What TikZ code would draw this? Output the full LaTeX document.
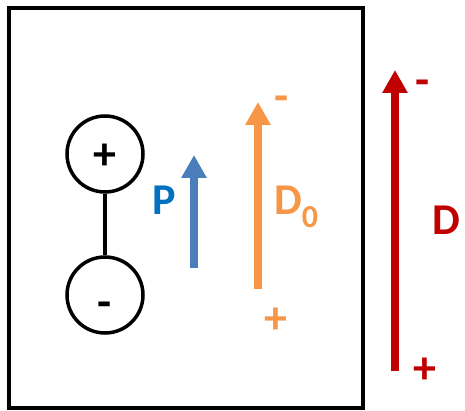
\documentclass[tikz,border=0pt]{standalone}
\usepackage{fontspec}
\setmainfont{Carlito}
\usetikzlibrary{arrows.meta}
\definecolor{PolBlue}{HTML}{4A7EBB}
\definecolor{LabelBlue}{HTML}{0070C0}
\definecolor{FieldOrange}{HTML}{F79646}
\definecolor{FieldRed}{HTML}{C00000}

\begin{document}
\begin{tikzpicture}[x=1pt,y=-1pt,
    charge/.style={circle,draw,line width=3.5pt,minimum size=76pt,inner sep=0pt,
                   text depth=0pt,font=\fontsize{46}{46}\selectfont\bfseries},
    field/.style={line width=8pt,-{Triangle[width=24pt,length=23pt]}},
    sym/.style={anchor=base west,inner sep=0pt,font=\fontsize{44}{44}\selectfont\bfseries},
    sign/.style={anchor=base,inner sep=0pt,font=\fontsize{46}{46}\selectfont\bfseries}]
    \useasboundingbox (0,0) rectangle (465,411);
    % dielectric slab
    \draw[line width=3.5pt] (9,8) rectangle (363,408);
    % dipole
    \node[charge,text height=31pt] (qplus) at (105,154) {+};
    \node[charge,text height=44pt] (qminus) at (105,295) {-};
    \draw[line width=3.5pt] (qplus)--(qminus);
    % polarisation
    \coordinate (ptail) at (194,268);
    \coordinate (phead) at (194,155);
    \draw[field,PolBlue] (ptail)--(phead);
    \node[sym,text=LabelBlue] (plab) at (152,215) {P};
    % depolarising field
    \coordinate (dotail) at (258,289);
    \coordinate (dohead) at (258,102);
    \draw[field,FieldOrange] (dotail)--(dohead);
    \node[sym,text=FieldOrange] (dolab) at (274,215)
      {D{\fontsize{32}{32}\selectfont\raisebox{-13pt}{0}}};
    \node[sign,text=FieldOrange] (dominus) at (282,112) {-};
    \node[sign,text=FieldOrange] (doplus) at (276,333) {+};
    % displacement
    \coordinate (dtail) at (395,371);
    \coordinate (dhead) at (395,70);
    \draw[field,FieldRed] (dtail)--(dhead);
    \node[sym,text=FieldRed] (dlab) at (432,235) {D};
    \node[sign,text=FieldRed] (dminus) at (423,96) {-};
    \node[sign,text=FieldRed] (dplus) at (425,383) {+};
\end{tikzpicture}
\end{document}
